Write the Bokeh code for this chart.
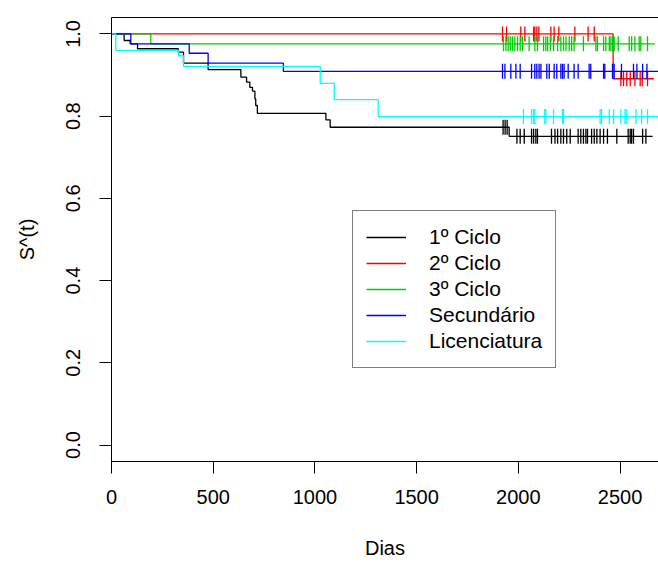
import math
import numpy as np
from bokeh.plotting import figure
from bokeh.models import (Range1d, LinearAxis, FixedTicker, PrintfTickFormatter,
                          Legend, LegendItem)
from bokeh.embed import file_html
from bokeh.resources import INLINE

# ---------------- data ----------------
groups = ["1º Ciclo", "2º Ciclo", "3º Ciclo", "Secundário", "Licenciatura"]
colors = ["#000000", "#FF0000", "#00CD00", "#0000FF", "#00FFFF"]

black_times = [0, 62, 92, 128, 328, 354, 475, 636, 664, 680, 693, 705, 709, 717, 1054, 1075, 1955]
black_surv = [1.0, 0.984, 0.976, 0.964, 0.956, 0.929, 0.913, 0.895, 0.883, 0.870, 0.861, 0.842,
              0.826, 0.807, 0.791, 0.773, 0.751]
black_end = 2660
black_cens = [1925, 1935, 1945, 1993, 2009, 2029, 2065, 2075, 2086, 2094, 2163, 2180, 2193, 2209,
              2222, 2238, 2255, 2294, 2307, 2320, 2332, 2340, 2360, 2373, 2386, 2402, 2419, 2438,
              2484, 2540, 2550, 2557, 2566, 2611, 2627]

red_times = [0, 2466]
red_surv = [1.0, 0.891]
red_end = 2666
red_cens = [1922, 1942, 2012, 2032, 2075, 2081, 2091, 2101, 2160, 2176, 2199, 2278, 2343, 2373,
            2504, 2517, 2533, 2550, 2573, 2599, 2609, 2635]

green_times = [0, 193]
green_surv = [1.0, 0.976]
green_end = 2672
green_cens = [1927, 1939, 1950, 1960, 1971, 1983, 1996, 2009, 2021, 2053, 2081, 2094, 2124, 2135,
              2144, 2157, 2173, 2193, 2209, 2222, 2234, 2250, 2262, 2274, 2320, 2381, 2389, 2419,
              2430, 2447, 2455, 2463, 2471, 2491, 2545, 2557, 2573, 2594, 2602, 2635]

blue_times = [0, 95, 382, 475, 845]
blue_surv = [1.0, 0.976, 0.953, 0.929, 0.909]
blue_end = 2690
blue_cens = [1922, 1934, 1963, 1988, 2009, 2065, 2081, 2091, 2102, 2111, 2140, 2152, 2176, 2189,
             2209, 2217, 2225, 2245, 2274, 2294, 2348, 2356, 2419, 2425, 2463, 2471, 2507, 2566,
             2583, 2611, 2632]

cyan_times = [0, 21, 330, 354, 1026, 1095, 1311]
cyan_surv = [1.0, 0.960, 0.947, 0.921, 0.880, 0.840, 0.799]
cyan_end = 2690
cyan_cens = [2025, 2065, 2075, 2081, 2130, 2135, 2173, 2217, 2222, 2402, 2409, 2447, 2468, 2504,
             2524, 2533, 2578, 2606, 2635]

x_ticks = [0, 500, 1000, 1500, 2000, 2500]
y_ticks = [0.0, 0.2, 0.4, 0.6, 0.8, 1.0]
x_title = "Dias"
y_title = "S^(t)"

series = [
    (black_times, black_surv, black_end, black_cens),
    (red_times, red_surv, red_end, red_cens),
    (green_times, green_surv, green_end, green_cens),
    (blue_times, blue_surv, blue_end, blue_cens),
    (cyan_times, cyan_surv, cyan_end, cyan_cens),
]

FONT = "Liberation Sans"
FS = "20px"

p = figure(width=658, height=563, output_backend="svg", toolbar_location=None,
           x_range=Range1d(0, 2689), y_range=Range1d(-0.04, 1.04),
           min_border_left=111, min_border_right=0, min_border_top=17, min_border_bottom=102,
           x_axis_label=x_title, y_axis_label=y_title)
p.outline_line_color = None
p.xgrid.visible = False
p.ygrid.visible = False
p.background_fill_color = "white"
p.border_fill_color = "white"

for ax in (p.xaxis[0], p.yaxis[0]):
    ax.axis_line_color = "black"
    ax.axis_line_width = 1
    ax.major_tick_line_color = "black"
    ax.major_tick_line_width = 1
    ax.major_tick_in = 0
    ax.major_tick_out = 12
    ax.minor_tick_line_color = None
    ax.major_label_text_font = FONT
    ax.major_label_text_font_size = FS
    ax.major_label_text_color = "black"
    ax.axis_label_text_font = FONT
    ax.axis_label_text_font_size = FS
    ax.axis_label_text_font_style = "normal"
    ax.axis_label_text_color = "black"

p.xaxis[0].ticker = FixedTicker(ticks=x_ticks)
p.xaxis[0].major_label_standoff = 16
p.xaxis[0].axis_label_standoff = 30

p.yaxis[0].ticker = FixedTicker(ticks=y_ticks)
p.yaxis[0].formatter = PrintfTickFormatter(format="%.1f")
p.yaxis[0].major_label_orientation = "vertical"
p.yaxis[0].major_label_standoff = 19
p.yaxis[0].axis_label_standoff = 26

# top border line of the box
top = LinearAxis(ticker=FixedTicker(ticks=[]), major_tick_line_color=None,
                 minor_tick_line_color=None, major_label_text_font_size="0px",
                 major_label_standoff=0, axis_line_color="black", axis_line_width=1)
p.add_layout(top, "above")

items = []
for (times, surv, end, cens), name, col in zip(series, groups, colors):
    xs = list(times) + [end]
    ys = list(surv) + [surv[-1]]
    r = p.step(xs, ys, mode="after", line_color=col, line_width=1.3)
    t_arr = np.array(times, dtype=float)
    s_arr = np.array(surv, dtype=float)
    idx = np.searchsorted(t_arr, np.array(cens, dtype=float), side="right") - 1
    cy = s_arr[idx]
    p.scatter(cens, cy, marker="dash", angle=math.pi / 2, size=15,
              line_color=col, line_width=1.3, fill_color=None)
    items.append(LegendItem(label=name, renderers=[r]))

legend = Legend(items=items, location=(241, 93), orientation="vertical",
                label_text_font=FONT, label_text_font_size="21px", label_text_color="black",
                glyph_width=40, glyph_height=26, label_height=26, spacing=0,
                label_standoff=23, padding=13, margin=0,
                border_line_color="black", border_line_width=1,
                background_fill_color="white", background_fill_alpha=1.0)
p.add_layout(legend, "center")

open("out.html", "w").write(file_html(p, INLINE))
